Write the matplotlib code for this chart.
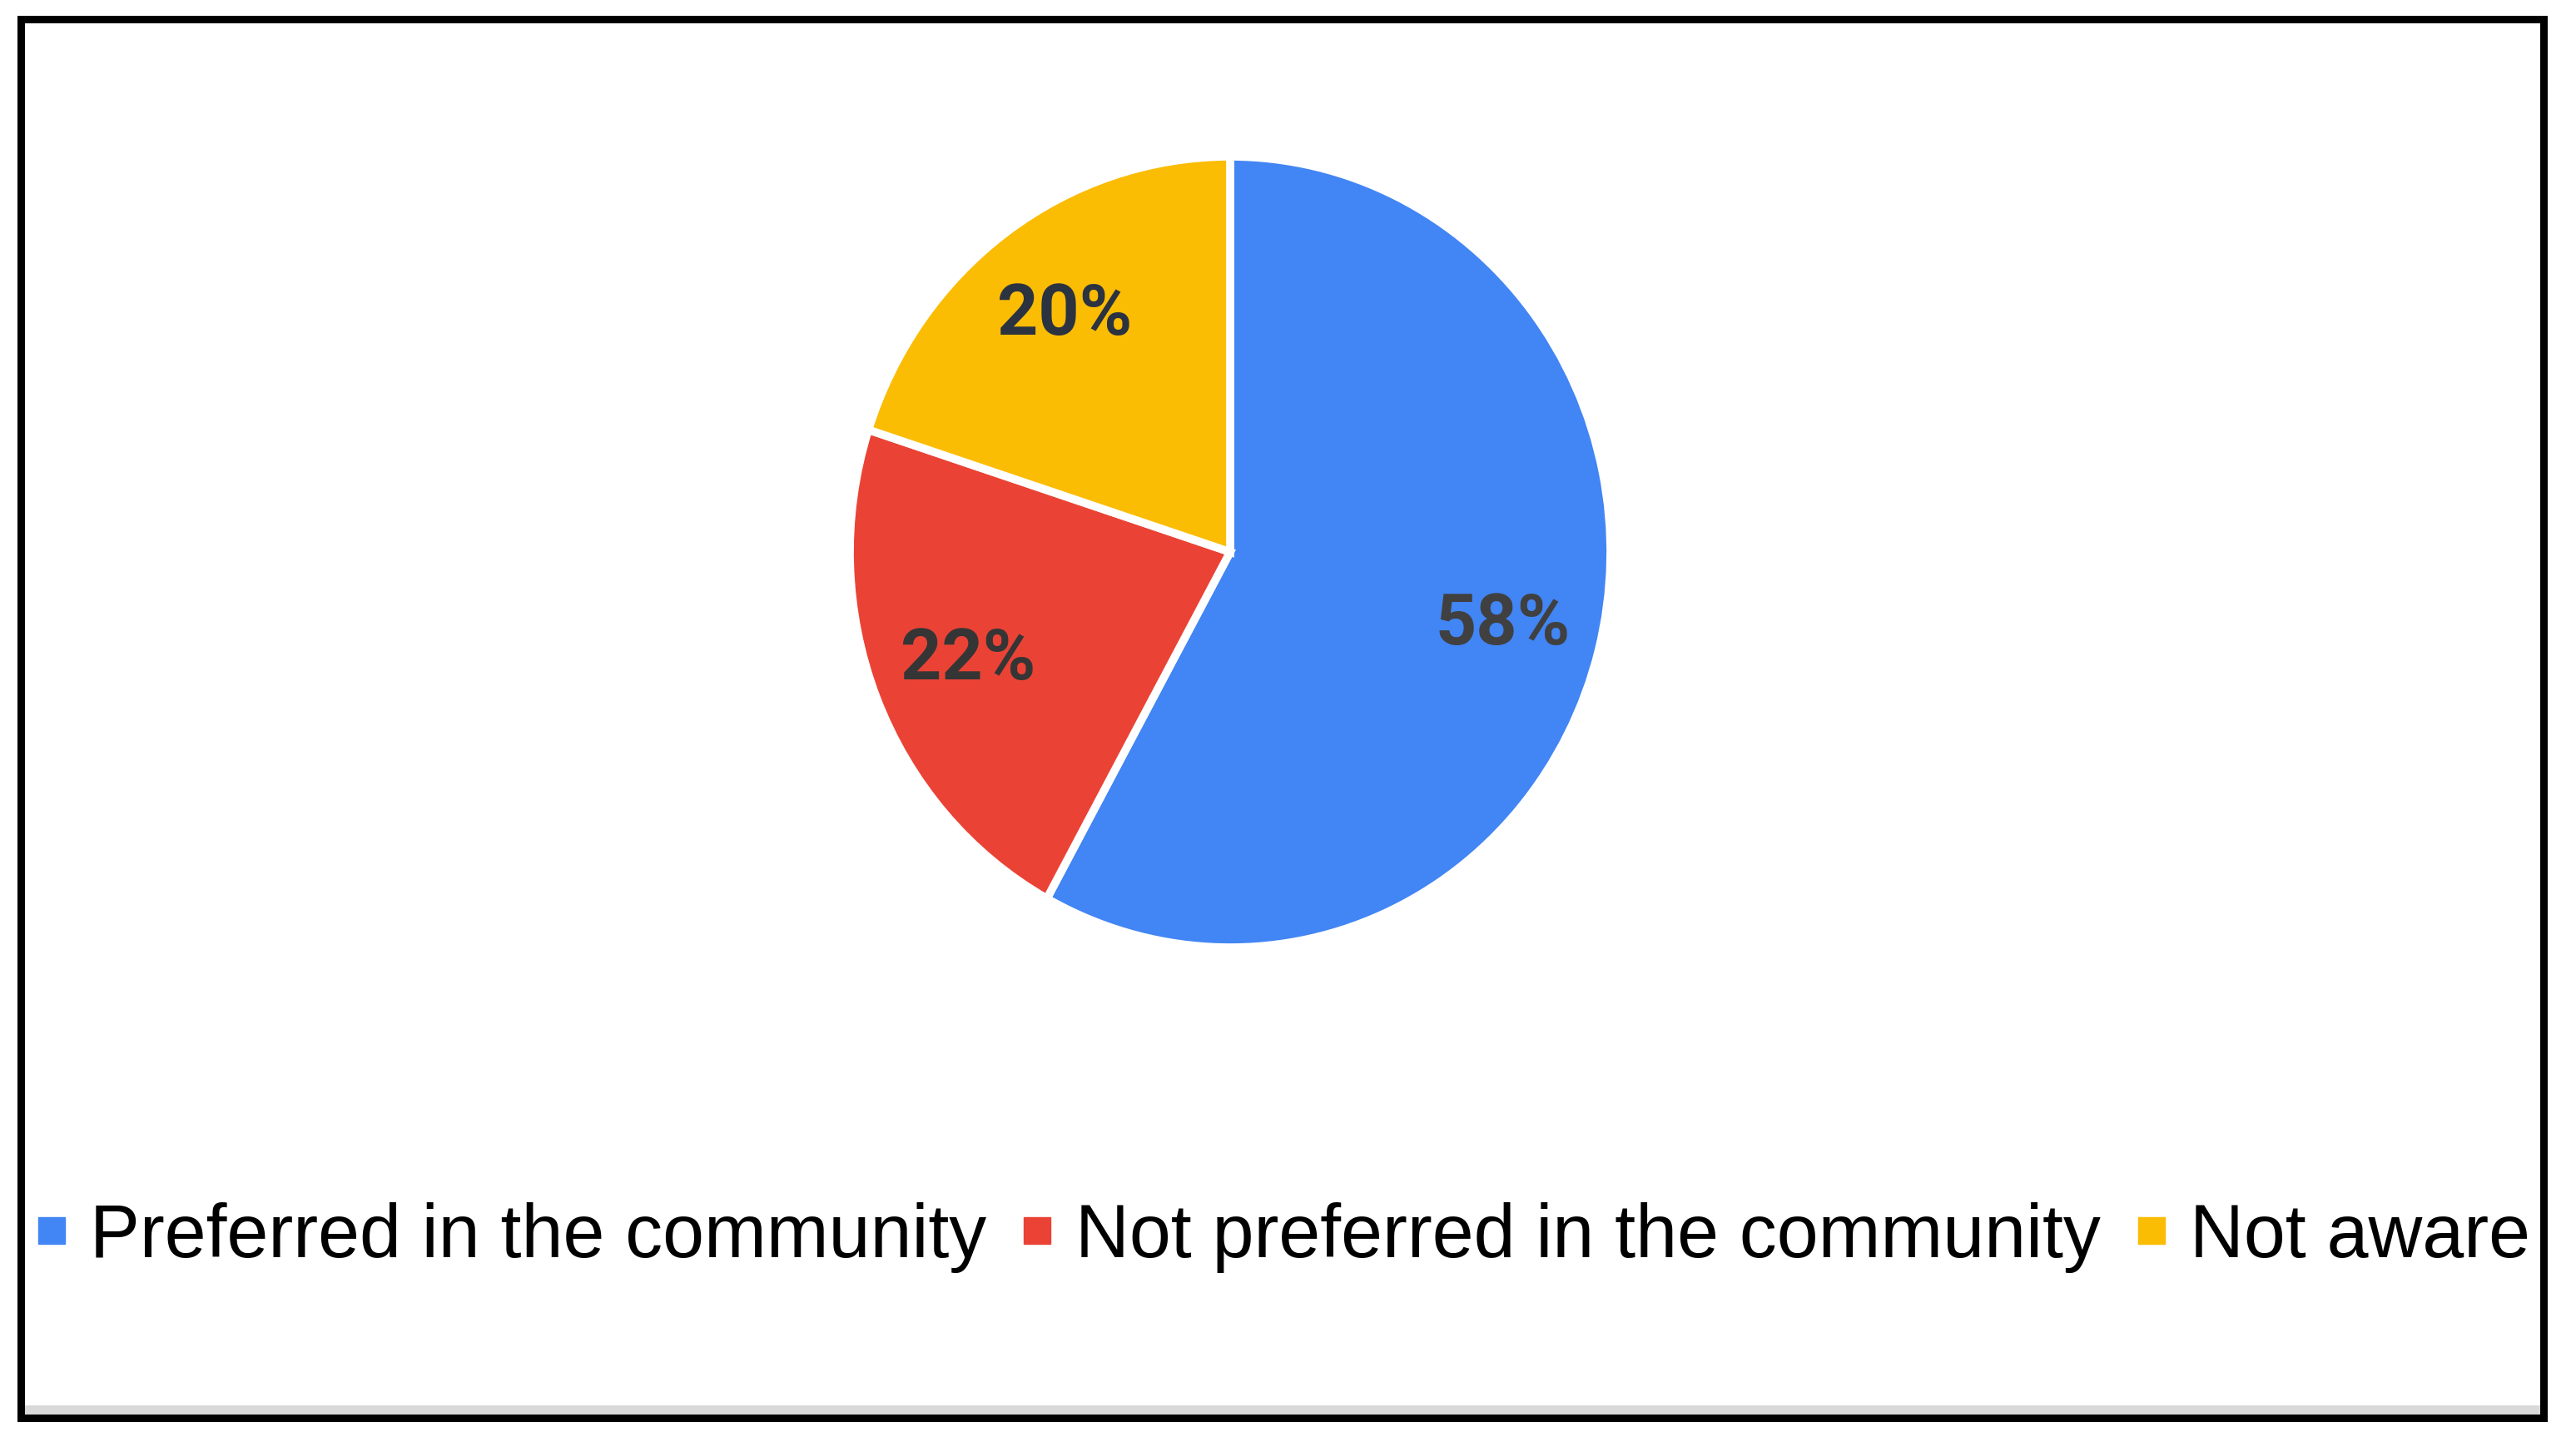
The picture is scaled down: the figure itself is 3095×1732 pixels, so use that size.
import matplotlib
matplotlib.use('Agg')
import matplotlib.pyplot as plt
from matplotlib.lines import Line2D
from matplotlib.patches import Rectangle

# data
categories = ['Preferred in the community', 'Not preferred in the community', 'Not aware']
shares = [58, 22, 20]
colors = ['#4285F4', '#EA4335', '#FBBC04']
label_colors = ['#404040', '#353535', '#2b3340']

W, H = 3095, 1732
fig = plt.figure(figsize=(W / 100, H / 100), dpi=100)
fig.patch.set_facecolor('white')

# pie axes: centre ~(1478, 663) px; the source pie is a touch taller than wide
cx, cy, rx, ry = 1478, 663, 457, 475
pad = 1.1
ax = fig.add_axes([(cx - rx * pad) / W, (H - cy - ry * pad) / H,
                   2 * rx * pad / W, 2 * ry * pad / H])
wedges, texts, autotexts = ax.pie(
    shares, colors=colors, startangle=90, counterclock=False,
    autopct='%d%%', pctdistance=0.74,
    wedgeprops=dict(edgecolor='white', linewidth=7),
    textprops=dict(fontsize=62, fontweight='bold', family='Roboto'))
for t, c in zip(autotexts, label_colors):
    t.set_color(c)
ax.set_xlim(-pad, pad)
ax.set_ylim(-pad, pad)
ax.set_aspect('auto')
ax.axis('off')

# legend across the bottom
handles = [Line2D([], [], marker='s', linestyle='none', markersize=23,
                  markerfacecolor=c, markeredgecolor=c) for c in colors]
fig.legend(handles, categories, loc='center', bbox_to_anchor=(0.4985, 0.142),
           ncol=3, frameon=False, handlelength=0.36, handletextpad=0.33,
           columnspacing=0.5, borderpad=0,
           prop=dict(family='Liberation Sans', size=64.6))

# grey strip and black frame around the picture
fig.patches.append(Rectangle((29 / W, 1 - 1699 / H), (3052 - 29) / W, 11 / H,
                             transform=fig.transFigure, facecolor='#d9d9d9',
                             edgecolor='none'))
fig.patches.append(Rectangle((24.5 / W, 1 - 1703 / H), (3056 - 24.5) / W,
                             (1703 - 22.5) / H, transform=fig.transFigure,
                             facecolor='none', edgecolor='black', linewidth=6.5))

fig.savefig('out.png', dpi=100)
